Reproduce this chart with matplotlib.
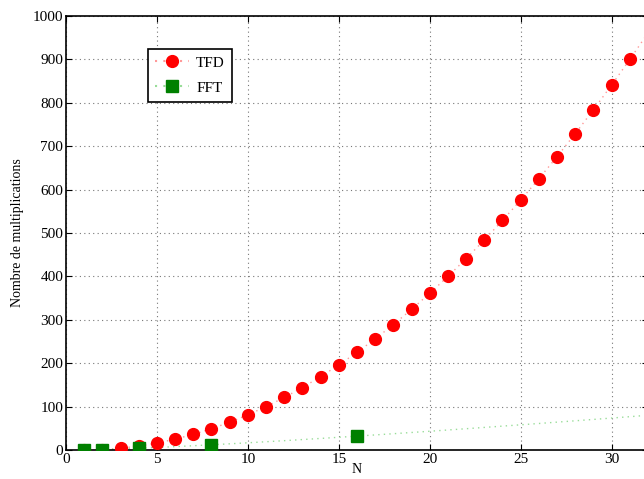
import matplotlib
matplotlib.use("Agg")
import matplotlib.pyplot as plt

# TFD : points N = 1..31
n_tfd = list(range(1, 32))
tfd = [0, 1, 4, 9, 16, 25, 36, 49, 64, 81, 100, 121, 144, 169, 196, 225,
       256, 289, 324, 361, 400, 441, 484, 529, 576, 625, 676, 729, 784,
       841, 900]
# courbe pointillee TFD (N = 1..32)
n_courbe = list(range(1, 33))
tfd_courbe = tfd + [961]

# FFT : points N = 1, 2, 4, 8, 16
n_fft = [1, 2, 4, 8, 16]
fft = [0, 1, 4, 12, 32]
fft_courbe = [0, 1, 2.38, 4, 5.80, 7.75, 9.83, 12, 14.26, 16.61, 19.03,
              21.51, 24.05, 26.65, 29.30, 32, 34.74, 37.53, 40.36, 43.22,
              46.12, 49.06, 52.02, 55.02, 58.05, 61.11, 64.19, 67.31, 70.44,
              73.60, 76.79, 80]

plt.rcParams["font.family"] = ["Liberation Serif", "DejaVu Serif"]
plt.rcParams["font.size"] = 11

fig = plt.figure(figsize=(6.44, 4.79), dpi=100)
ax = fig.add_axes([66/644, 29/479, 582/644, 434/479])

ax.plot(n_courbe, tfd_courbe, color="#ff9999", lw=1, ls=(0, (1, 3)), zorder=2)
ax.plot(n_courbe, fft_courbe, color="#99dd99", lw=1, ls=(0, (1, 3)), zorder=2)
ax.plot(n_tfd, tfd, "o", color="red", ms=8.5, mec="red", zorder=3)
ax.plot(n_fft, fft, "s", color="green", ms=9, mec="green", zorder=4)

h1, = ax.plot([], [], marker="o", ls=(0, (1, 3)), color="#ff9999", ms=8.5,
              mfc="red", mec="red")
h2, = ax.plot([], [], marker="s", ls=(0, (1, 3)), color="#99dd99", ms=9,
              mfc="green", mec="green")
leg = ax.legend([h1, h2], ["TFD", "FFT"], loc="upper left",
                bbox_to_anchor=(0.141, 0.924), fancybox=False, framealpha=1,
                edgecolor="black", fontsize=11, handlelength=2.2,
                handletextpad=0.5, borderpad=0.45, labelspacing=0.75,
                borderaxespad=0)
leg.get_frame().set_linewidth(1.2)

ax.set_xlim(0, 32)
ax.set_ylim(0, 1000)
ax.set_xticks(range(0, 31, 5))
ax.set_yticks(range(0, 1001, 100))
ax.grid(True, ls=(0, (1, 3)), color="#777777", lw=0.8)
ax.tick_params(direction="in", length=4, top=True, right=True, pad=2)
for s in ax.spines.values():
    s.set_linewidth(1.2)

ax.set_xlabel("N", fontsize=10, labelpad=-2)
ax.set_ylabel("Nombre de multiplications", fontsize=10, labelpad=6)

fig.savefig("out.png", dpi=100)
